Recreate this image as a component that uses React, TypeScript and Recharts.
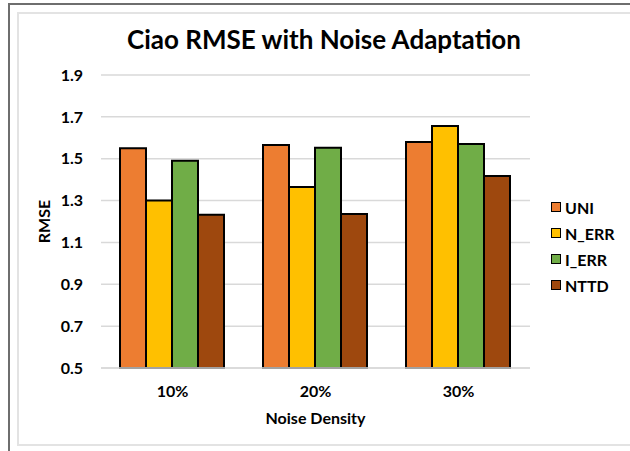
import { BarChart, Bar, XAxis, YAxis, CartesianGrid, Legend, Label } from "recharts";

// Noise density levels on the x axis
const densities = ["10%", "20%", "30%"];

// RMSE per method
const uni = [1.55, 1.565, 1.58];
const nErr = [1.3, 1.365, 1.656];
const iErr = [1.49, 1.552, 1.57];
const nttd = [1.232, 1.236, 1.418];

const yTicks = [0.5, 0.7, 0.9, 1.1, 1.3, 1.5, 1.7, 1.9];

const SERIES = [
  { key: "UNI", color: "#ED7D31" },
  { key: "N_ERR", color: "#FFC000" },
  { key: "I_ERR", color: "#70AD47" },
  { key: "NTTD", color: "#9E480E" },
];

const data = densities.map((d, i) => ({
  name: d,
  UNI: uni[i],
  N_ERR: nErr[i],
  I_ERR: iErr[i],
  NTTD: nttd[i],
}));

const FONT = "Lato, 'Open Sans', sans-serif";
const AXIS_TEXT = { fill: "#000", fontSize: 16, fontWeight: 700, fontFamily: FONT };

// legend kept in series order (recharts sorts by name otherwise)
function LegendBox() {
  return (
    <div>
      {SERIES.map((s) => (
        <div
          key={s.key}
          style={{
            display: "flex",
            alignItems: "center",
            height: 26,
            fontFamily: FONT,
            fontWeight: 700,
            fontSize: 16,
            color: "#000",
          }}
        >
          <span
            style={{
              display: "inline-block",
              width: 8,
              height: 8,
              background: s.color,
              border: "1.5px solid #000",
              marginRight: 4,
            }}
          />
          {s.key}
        </div>
      ))}
    </div>
  );
}

export default function App() {
  return (
    <div
      style={{
        position: "absolute",
        left: 0,
        top: 0,
        width: 630,
        height: 451,
        background: "#fff",
        overflow: "hidden",
        fontFamily: FONT,
      }}
    >
      {/* outer dark frame (top and left only visible) */}
      <div
        style={{
          position: "absolute",
          left: 8,
          top: 3,
          width: 640,
          height: 460,
          borderTop: "2px solid #6e6e6e",
          borderLeft: "2px solid #6e6e6e",
        }}
      />
      {/* inner light chart-area border */}
      <div
        style={{
          position: "absolute",
          left: 17,
          top: 12,
          width: 640,
          height: 430,
          border: "2px solid #e3e3e3",
        }}
      />
      <div
        style={{
          position: "absolute",
          left: 0,
          top: 21,
          width: 648,
          textAlign: "center",
          fontWeight: 700,
          fontSize: 26,
          color: "#000",
          lineHeight: "36px",
        }}
      >
        Ciao RMSE with Noise Adaptation
      </div>
      <BarChart
        width={630}
        height={451}
        data={data}
        margin={{ top: 75, right: 100, bottom: 23, left: 0 }}
        barCategoryGap={19}
        barGap={0}
        style={{ position: "absolute", left: 0, top: 0 }}
      >
        <CartesianGrid vertical={false} stroke="#d9d9d9" strokeWidth={1.5} />
        <XAxis
          dataKey="name"
          height={60}
          axisLine={{ stroke: "#d9d9d9", strokeWidth: 1.5 }}
          tickLine={false}
          tickSize={0}
          tickMargin={18}
          tick={AXIS_TEXT}
        >
          <Label value="Noise Density" position="insideBottom" offset={4} style={AXIS_TEXT} />
        </XAxis>
        <YAxis
          width={101}
          domain={[0.5, 1.9]}
          ticks={yTicks}
          tickFormatter={(v: number) => v.toFixed(1)}
          axisLine={false}
          tickLine={false}
          tickSize={0}
          tickMargin={18}
          tick={AXIS_TEXT}
        >
          <Label
            value="RMSE"
            angle={-90}
            position="insideLeft"
            offset={44}
            style={{ ...AXIS_TEXT, textAnchor: "middle" }}
          />
        </YAxis>
        <Legend
          layout="vertical"
          align="center"
          verticalAlign="middle"
          wrapperStyle={{ left: 551, top: 194, width: 80 }}
          content={() => <LegendBox />}
        />
        {SERIES.map((s) => (
          <Bar
            key={s.key}
            dataKey={s.key}
            fill={s.color}
            stroke="#000"
            strokeWidth={2}
            isAnimationActive={false}
          />
        ))}
      </BarChart>
    </div>
  );
}
